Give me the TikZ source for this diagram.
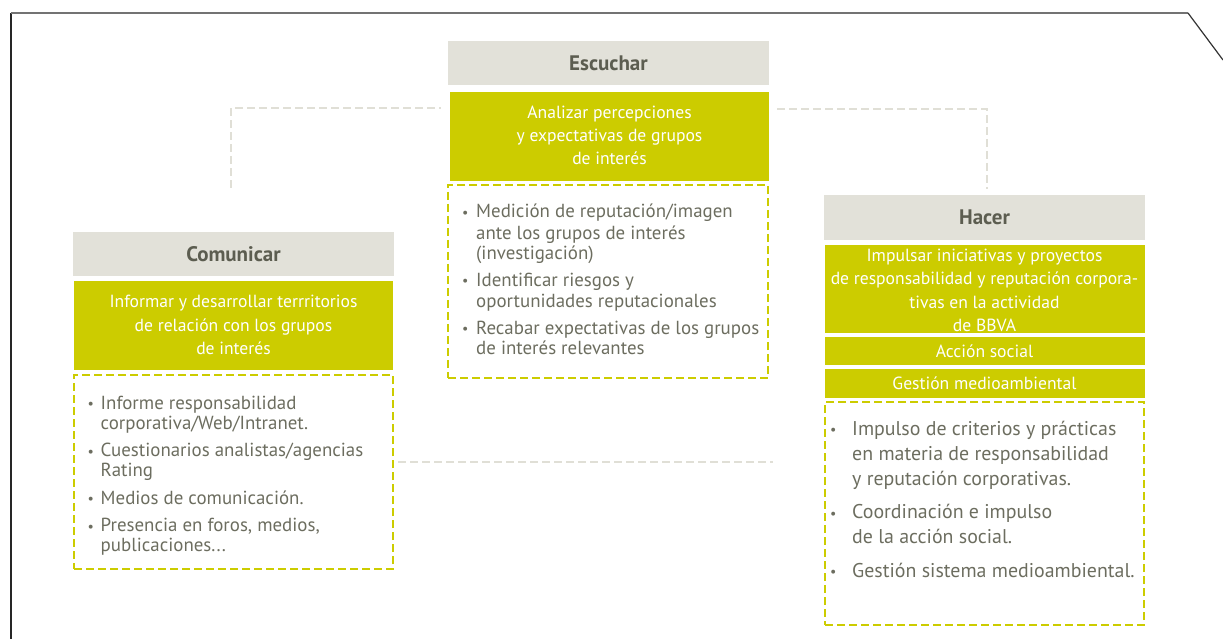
\documentclass[tikz,border=0pt]{standalone}
\usepackage{fontspec}
\setmainfont{PT Sans}
\usetikzlibrary{calc}
\definecolor{bgreen}{RGB}{204,204,0}
\definecolor{hdrgray}{RGB}{226,225,217}
\definecolor{hdrtext}{RGB}{92,93,80}
\definecolor{bodytext}{RGB}{108,109,95}
\definecolor{connc}{RGB}{224,223,214}
\newcommand{\bul}[2]{\par\noindent\hangindent=#1\hangafter=1\makebox[#1][l]{\hspace{1pt}\raisebox{0.5pt}{\fontsize{14}{14}\selectfont\textbullet}}#2}
\tikzset{
  hdr/.style={fill=hdrgray, inner sep=0pt, text=hdrtext, font=\fontsize{21}{24}\selectfont\bfseries},
  gbox/.style={fill=bgreen, inner sep=0pt},
  gtext/.style={text=white, align=center, inner sep=0pt, font=\fontsize{17.6}{23.3}\selectfont},
  dbox/.style={draw=bgreen, line width=2.6pt, dash pattern=on 8pt off 4pt, inner sep=0pt},
  ltext/.style={text=bodytext, inner sep=0pt, anchor=base west},
  conn/.style={draw=connc, line width=2.8pt, dash pattern=on 8pt off 4pt},
}
\begin{document}
\begin{tikzpicture}[x=1pt,y=-1pt]
\useasboundingbox (0,0) rectangle (1223,639);
% frame
\coordinate (f0) at (11,639);
\coordinate (f1) at (11,13);
\coordinate (f2) at (1188,13);
\coordinate (f3) at (1223,60);
\draw[black!85, line width=1.3pt] (f0) -- (f1);
\draw[black!55, line width=1.5pt] (f1) -- (f2);
\draw[black!80, line width=1.2pt] (f2) -- (f3);

% connectors
\coordinate (cL0) at (231,188);
\coordinate (cL1) at (441,108);
\coordinate (cR0) at (777,109);
\coordinate (cR1) at (987,189);
\coordinate (cB0) at (398,462);
\coordinate (cB1) at (773,462);
\draw[conn] (cL0) |- (cL1);
\draw[conn] (cR0) -| (cR1);
\draw[conn] (cB0) -- (cB1);

% Escuchar
\node[hdr, minimum width=321pt, minimum height=44pt] (eh) at (608.5,63.5) {Escuchar};
\node[gbox, minimum width=319pt, minimum height=89pt] (eg) at (609.5,136.5) {};
\node[gtext] (egt) at (609.5,135.5) {Analizar percepciones\\y expectativas de grupos\\de interés};
\node[dbox, minimum width=320pt, minimum height=193pt] (el) at (608,281.5) {};
\node[ltext, font=\fontsize{18.9}{21}\selectfont] (elt) at (461,218) {\parbox[t]{305pt}{%
\parskip=5.5pt
\bul{15pt}{Medición de reputación/imagen\\ante los grupos de interés\\(investigación)}
\bul{15pt}{Identificar riesgos y\\oportunidades reputacionales}
\bul{15pt}{Recabar expectativas de los grupos\\de interés relevantes}}};

% Comunicar
\node[hdr, minimum width=321pt, minimum height=44pt] (ch) at (233.5,254) {Comunicar};
\node[gbox, minimum width=319pt, minimum height=89pt] (cg) at (233.5,325.5) {};
\node[gtext] (cgt) at (233.5,325) {Informar y desarrollar terrritorios\\de relación con los grupos\\de interés};
\node[dbox, minimum width=319pt, minimum height=194pt] (cl) at (233.5,472) {};
\node[ltext, font=\fontsize{18.9}{20.2}\selectfont] (clt) at (86.5,409) {\parbox[t]{300pt}{%
\parskip=7.2pt
\bul{14pt}{Informe responsabilidad\\corporativa/Web/Intranet.}
\bul{14pt}{Cuestionarios analistas/agencias\\Rating}
\bul{14pt}{Medios de comunicación.}
\bul{14pt}{Presencia en foros, medios,\\publicaciones...}}};

% Hacer
\node[hdr, minimum width=321pt, minimum height=45pt] (hh) at (984.5,217.5) {Hacer};
\node[gbox, minimum width=320pt, minimum height=88pt] (hg) at (984.5,289) {};
\node[gtext] (hgt) at (984.5,290.5) {Impulsar iniciativas y proyectos\\de responsabilidad y reputación corpora-\\tivas en la actividad\\de BBVA};
\node[gbox, minimum width=320pt, minimum height=28pt] (ha) at (984.5,351) {};
\node[gtext] (hat) at (984.5,351) {Acción social};
\node[gbox, minimum width=320pt, minimum height=29pt] (hm) at (984.5,383.5) {};
\node[gtext] (hmt) at (984.5,383.5) {Gestión medioambiental};
\node[dbox, minimum width=319pt, minimum height=223pt] (hl) at (984.5,513.5) {};
\node[ltext, font=\fontsize{19.9}{25}\selectfont] (hlt) at (829,435) {\parbox[t]{315pt}{%
\parskip=8.5pt
\bul{23pt}{Impulso de criterios y prácticas\\en materia de responsabilidad\\y reputación corporativas.}
\bul{23pt}{Coordinación e impulso\\de la acción social.}
\bul{23pt}{Gestión sistema medioambiental.}}};
\end{tikzpicture}
\end{document}
